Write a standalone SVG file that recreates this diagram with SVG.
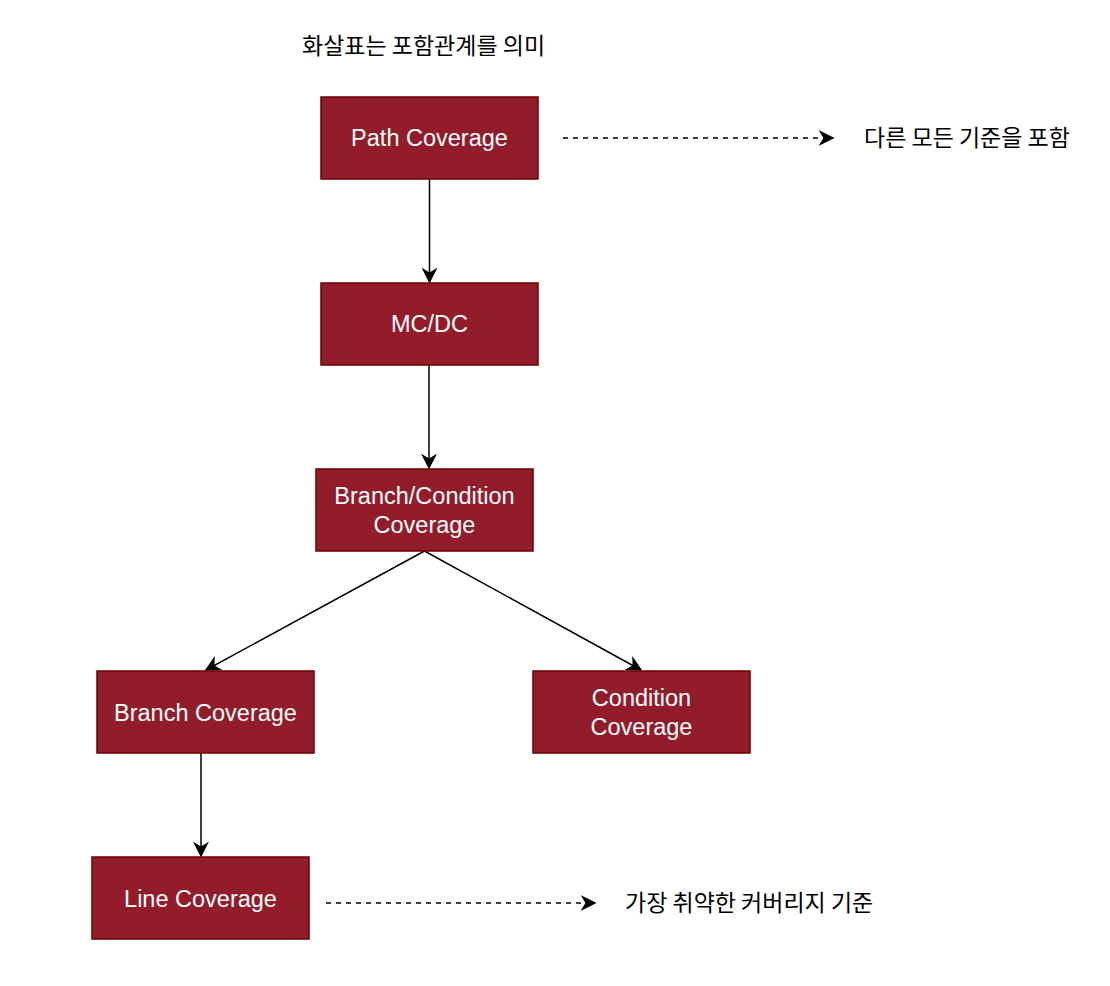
<svg xmlns="http://www.w3.org/2000/svg" width="1110" height="986" viewBox="0 0 1110 986">
<style>
.box{fill:#931C2B;stroke:#6F0000;stroke-width:1.5}
.lbl{font-family:"Liberation Sans",Arial,sans-serif;font-size:23.5px;fill:#ffffff;text-anchor:middle}
.note{font-family:"Noto Sans CJK KR","Liberation Sans",sans-serif;font-size:23px;fill:#000000}
.edge{stroke:#000;stroke-width:1.5;fill:none}
.dash{stroke:#000;stroke-width:1.5;fill:none;stroke-dasharray:5 5}
</style>
<defs>
<marker id="ah2" viewBox="0 0 10 10" refX="9" refY="5" markerWidth="16" markerHeight="16" markerUnits="userSpaceOnUse" orient="auto">
<path d="M0,0 L10,5 L0,10 L3,5 Z" fill="#000"/>
</marker>
</defs>
<text class="note" x="302" y="54">화살표는 포함관계를 의미</text>
<g id="connectors">
<line class="edge" x1="429.5" y1="179" x2="429.5" y2="282" marker-end="url(#ah2)"/>
<line class="edge" x1="429" y1="365" x2="429" y2="468" marker-end="url(#ah2)"/>
<line class="edge" x1="424.5" y1="551" x2="206" y2="670" marker-end="url(#ah2)"/>
<line class="edge" x1="424.5" y1="551" x2="641" y2="670" marker-end="url(#ah2)"/>
<line class="edge" x1="201" y1="753" x2="201" y2="856" marker-end="url(#ah2)"/>
<line class="dash" x1="563" y1="138" x2="833" y2="138" marker-end="url(#ah2)"/>
<line class="dash" x1="326" y1="903" x2="595" y2="903" marker-end="url(#ah2)"/>
</g>
<g id="path-coverage">
<rect class="box" x="321" y="97" width="217" height="82"/>
<text class="lbl" x="429.5" y="146">Path Coverage</text>
</g>
<g id="mcdc">
<rect class="box" x="321" y="283" width="217" height="82"/>
<text class="lbl" x="429.5" y="332">MC/DC</text>
</g>
<g id="branch-condition">
<rect class="box" x="316" y="469" width="217" height="82"/>
<text class="lbl" x="424.5" y="504">Branch/Condition</text>
<text class="lbl" x="424.5" y="533">Coverage</text>
</g>
<g id="branch-coverage">
<rect class="box" x="97" y="671" width="217" height="82"/>
<text class="lbl" x="205.5" y="721">Branch Coverage</text>
</g>
<g id="condition-coverage">
<rect class="box" x="533" y="671" width="217" height="82"/>
<text class="lbl" x="641.5" y="706">Condition</text>
<text class="lbl" x="641.5" y="735">Coverage</text>
</g>
<g id="line-coverage">
<rect class="box" x="92" y="857" width="217" height="82"/>
<text class="lbl" x="200.5" y="907">Line Coverage</text>
</g>
<g id="note-top">
<text class="note" x="864" y="146">다른 모든 기준을 포함</text>
</g>
<g id="note-bottom">
<text class="note" x="625" y="911">가장 취약한 커버리지 기준</text>
</g>
</svg>
